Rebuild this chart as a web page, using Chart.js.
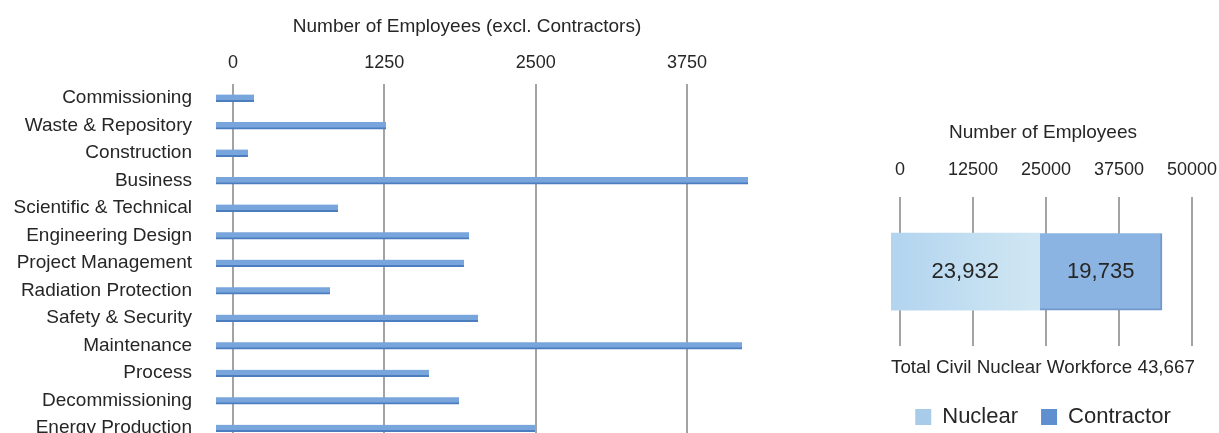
<!DOCTYPE html>
<html>
<head>
<meta charset="utf-8">
<script src="https://cdn.jsdelivr.net/npm/chart.js@4.4.1/dist/chart.umd.min.js"></script>
<style>
  html, body { margin: 0; padding: 0; background: #ffffff; overflow: hidden; width: 1219px; height: 433px; }
  #wrap { position: relative; width: 1219px; height: 433px; overflow: hidden; }
  #leftChart { position: absolute; left: 0; top: 0; }
  #rightChart { position: absolute; left: 860px; top: 0; }
</style>
</head>
<body>
<div id="wrap">
  <canvas id="leftChart" width="934" height="450"></canvas>
  <canvas id="rightChart" width="359" height="433"></canvas>
</div>
<script>
// ---------- data ----------
const categories = [
  'Commissioning', 'Waste & Repository', 'Construction', 'Business',
  'Scientific & Technical', 'Engineering Design', 'Project Management',
  'Radiation Protection', 'Safety & Security', 'Maintenance', 'Process',
  'Decommissioning', 'Energy Production'
];
const employeesExclContractors = [314, 1404, 264, 4394, 1008, 2090, 2048, 942, 2164, 4345, 1759, 2007, 2635];
const leftTickValues = [0, 1250, 2500, 3750];
const leftTitle = 'Number of Employees (excl. Contractors)';

const workforceGroups = ['Nuclear', 'Contractor'];
const workforceValues = [23932, 19735];
const rightTickValues = [0, 12500, 25000, 37500, 50000];
const rightTitle = 'Number of Employees';
const workforceTotalText = 'Total Civil Nuclear Workforce 43,667';

// ---------- styling ----------
Chart.defaults.font.family = "'Liberation Sans', Arial, Helvetica, sans-serif";
Chart.defaults.color = '#262626';
const textColor = '#262626';
const gridColor = '#a3a3a3';

function noEdgePadding(s) {
  s.paddingLeft = 0; s.paddingRight = 0; s.paddingTop = 0; s.paddingBottom = 0;
}

// ---------- left chart ----------
new Chart(document.getElementById('leftChart'), {
  type: 'bar',
  data: {
    labels: categories,
    datasets: [{
      label: 'Employees',
      data: employeesExclContractors,
      xAxisID: 'x2',
      yAxisID: 'y',
      backgroundColor: '#78a5db',
      borderColor: '#4c7ebf',
      borderWidth: { top: 0, left: 0, right: 0, bottom: 2 },
      borderSkipped: false,
      barThickness: 7
    }]
  },
  options: {
    indexAxis: 'y',
    responsive: false,
    animation: false,
    devicePixelRatio: 1,
    layout: { padding: { left: 0, right: 0, top: 0, bottom: 8 } },
    plugins: {
      legend: { display: false },
      tooltip: { enabled: false },
      title: {
        display: true,
        text: leftTitle,
        color: textColor,
        font: { size: 19, weight: 'normal' },
        padding: { top: 15.6, bottom: 10 }
      }
    },
    scales: {
      x: {
        type: 'linear',
        position: 'top',
        min: -140.4,
        max: 5790,
        afterBuildTicks: s => { s.ticks = leftTickValues.map(v => ({ value: v })); },
        afterFit: s => { s.height = 35.9; noEdgePadding(s); },
        ticks: { callback: v => String(v), font: { size: 18 }, padding: 10.5, color: textColor },
        grid: { color: gridColor, lineWidth: 2, drawTicks: false },
        border: { display: false }
      },
      x2: { type: 'linear', display: false, min: 0, max: 5930 },
      y: {
        type: 'category',
        afterFit: s => { s.width = 216; noEdgePadding(s); },
        ticks: { font: { size: 19 }, padding: 24, color: textColor, autoSkip: false },
        grid: { display: false, drawTicks: false },
        border: { display: false }
      }
    }
  }
});

// ---------- right chart ----------
const legendColors = ['#a8cbe9', '#5f8fcf'];

function nuclearFill(ctx) {
  const chart = ctx.chart;
  const area = chart.chartArea;
  if (!area) return '#c4dff1';
  const g = chart.ctx.createLinearGradient(area.left, 0, area.right, 0);
  g.addColorStop(0, '#b2d4ef');
  g.addColorStop(0.48, '#d0e7f3');
  g.addColorStop(1, '#d0e7f3');
  return g;
}

const valueLabelPlugin = {
  id: 'valueLabels',
  afterDatasetsDraw(chart) {
    const c = chart.ctx;
    c.save();
    c.font = "22px 'Liberation Sans', Arial, sans-serif";
    c.fillStyle = textColor;
    c.textAlign = 'center';
    c.textBaseline = 'middle';
    chart.data.datasets.forEach((ds, i) => {
      const meta = chart.getDatasetMeta(i);
      meta.data.forEach((el, j) => {
        const v = ds.data[j];
        c.fillText(v.toLocaleString('en-US'), (el.x + el.base) / 2, el.y);
      });
    });
    c.restore();
  }
};

new Chart(document.getElementById('rightChart'), {
  type: 'bar',
  data: {
    labels: [''],
    datasets: [
      {
        label: workforceGroups[0],
        data: [workforceValues[0]],
        xAxisID: 'x2',
        backgroundColor: nuclearFill,
        borderWidth: 0,
        barThickness: 77
      },
      {
        label: workforceGroups[1],
        data: [workforceValues[1]],
        xAxisID: 'x2',
        backgroundColor: '#8cb4e2',
        borderColor: '#7199cc',
        borderWidth: { top: 0, left: 0, right: 2, bottom: 2 },
        borderSkipped: false,
        barThickness: 77
      }
    ]
  },
  options: {
    indexAxis: 'y',
    responsive: false,
    animation: false,
    devicePixelRatio: 1,
    layout: { padding: { left: 31, right: 24, top: 0, bottom: -5 } },
    plugins: {
      tooltip: { enabled: false },
      title: {
        display: true,
        text: rightTitle,
        color: textColor,
        font: { size: 19, weight: 'normal' },
        padding: { top: 121.6, bottom: 10 }
      },
      subtitle: {
        display: true,
        position: 'bottom',
        weight: 500,
        text: workforceTotalText,
        color: textColor,
        font: { size: 19, weight: 'normal' },
        padding: { top: 10.6, bottom: 3.6 }
      },
      legend: {
        display: true,
        position: 'bottom',
        labels: {
          boxWidth: 16,
          boxHeight: 16,
          padding: 23,
          color: textColor,
          font: { size: 22 },
          generateLabels: chart => chart.data.datasets.map((ds, i) => ({
            text: ds.label,
            fillStyle: legendColors[i],
            strokeStyle: legendColors[i],
            lineWidth: 0,
            hidden: false,
            datasetIndex: i,
            fontColor: textColor
          }))
        }
      }
    },
    scales: {
      x: {
        type: 'linear',
        position: 'top',
        min: -1541,
        max: 50514,
        afterBuildTicks: s => { s.ticks = rightTickValues.map(v => ({ value: v })); },
        afterFit: s => { s.height = 43; noEdgePadding(s); },
        ticks: { callback: v => String(v), font: { size: 18 }, padding: 16.2, color: textColor },
        grid: { color: gridColor, lineWidth: 2, drawTicks: false },
        border: { display: false }
      },
      x2: { type: 'linear', display: false, stacked: true, min: 0, max: 48985 },
      y: { type: 'category', display: false, stacked: true }
    }
  },
  plugins: [valueLabelPlugin]
});
</script>
</body>
</html>
